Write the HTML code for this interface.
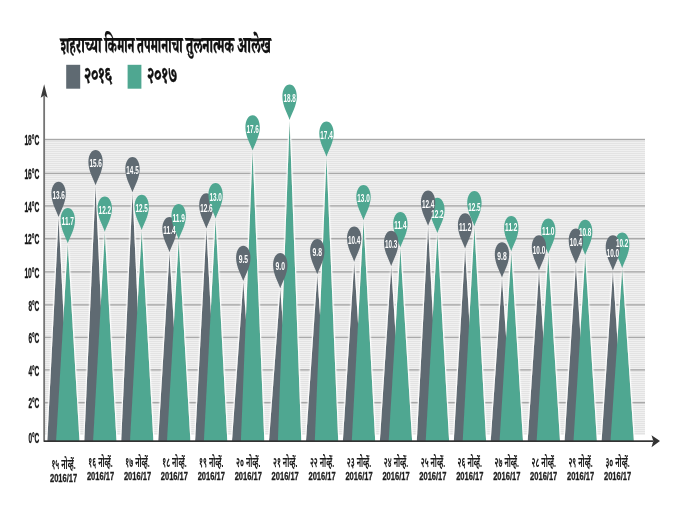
<!DOCTYPE html>
<html lang="mr"><head><meta charset="utf-8"><title>शहराच्या किमान तपमानाचा तुलनात्मक आलेख</title>
<style>html,body{margin:0;padding:0;background:#fff}body{width:685px;height:514px;overflow:hidden}svg{display:block}
.yl{font:bold 14px "Liberation Sans","Noto Sans Devanagari","Lohit Devanagari","FreeSans",sans-serif;fill:#161616;stroke:#161616;stroke-width:.35px}
.xl{font:bold 13.5px "Liberation Sans","Noto Sans Devanagari","Lohit Devanagari","FreeSans",sans-serif;fill:#1c1c1c}
.xn{font:bold 10.5px "Liberation Sans","Noto Sans Devanagari","Lohit Devanagari","FreeSans",sans-serif;fill:#1c1c1c;stroke:#1c1c1c;stroke-width:.3px}
.pv{font:bold 11px "Liberation Sans","Noto Sans Devanagari","Lohit Devanagari","FreeSans",sans-serif;fill:#fff}
.lg{font:800 21.5px "Liberation Serif","Noto Serif Devanagari","Noto Sans Devanagari","Lohit Devanagari","FreeSerif",serif;fill:#111;stroke:#111;stroke-width:.35px}
.tt{font:800 23px "Liberation Serif","Noto Serif Devanagari","Noto Sans Devanagari","Lohit Devanagari","FreeSerif",serif;fill:#111;stroke:#111;stroke-width:.25px}
</style></head><body>
<svg width="685" height="514" viewBox="0 0 685 514">
<defs>
<pattern id="st" x="0" y="139" width="8" height="2" patternUnits="userSpaceOnUse"><rect width="8" height="2" fill="#f0f0f0"/><rect width="8" height="1" fill="#e3e3e3"/></pattern>
<path id="pin" d="M0,35.3 C-1.9,29.5 -7.2,21 -7.2,12.2 C-7.2,4.6 -3.9,0 0,0 C3.9,0 7.2,4.6 7.2,12.2 C7.2,21 1.9,29.5 0,35.3 Z"/>
<filter id="glow" filterUnits="userSpaceOnUse" x="0" y="0" width="685" height="514"><feGaussianBlur in="SourceAlpha" stdDeviation="1.3" result="b"/><feComponentTransfer in="b" result="a"><feFuncA type="linear" slope="2.8"/></feComponentTransfer><feFlood flood-color="#fff"/><feComposite in2="a" operator="in" result="g"/><feMerge><feMergeNode in="g"/><feMergeNode in="SourceGraphic"/></feMerge></filter>
</defs>
<rect width="685" height="514" fill="#fff"/>
<rect x="45" y="139" width="600" height="296" fill="url(#st)"/>
<rect x="45" y="138.8" width="600" height="1.4" fill="#a9a9a9"/>
<rect x="45" y="172.7" width="600" height="1.4" fill="#a9a9a9"/>
<rect x="45" y="205.2" width="600" height="1.4" fill="#a9a9a9"/>
<rect x="45" y="238.0" width="600" height="1.4" fill="#a9a9a9"/>
<rect x="45" y="271.2" width="600" height="1.4" fill="#a9a9a9"/>
<rect x="45" y="304.2" width="600" height="1.4" fill="#a9a9a9"/>
<rect x="45" y="336.7" width="600" height="1.4" fill="#a9a9a9"/>
<rect x="45" y="369.2" width="600" height="1.4" fill="#a9a9a9"/>
<rect x="45" y="402.0" width="600" height="1.4" fill="#a9a9a9"/>
<g filter="url(#glow)"><polygon points="47.3,441.0 58.6,218.0 69.9,441.0" fill="#5f6a72"/><polygon points="56.1,441.0 67.8,244.3 79.5,441.0" fill="#4fa791"/><polygon points="84.3,441.0 95.6,186.3 106.9,441.0" fill="#5f6a72"/><polygon points="93.1,441.0 104.8,232.7 116.5,441.0" fill="#4fa791"/><polygon points="121.2,441.0 132.5,193.3 143.8,441.0" fill="#5f6a72"/><polygon points="130.0,441.0 141.7,231.1 153.4,441.0" fill="#4fa791"/><polygon points="158.2,441.0 169.5,253.2 180.8,441.0" fill="#5f6a72"/><polygon points="167.0,441.0 178.7,240.4 190.4,441.0" fill="#4fa791"/><polygon points="195.1,441.0 206.4,229.6 217.7,441.0" fill="#5f6a72"/><polygon points="203.9,441.0 215.6,219.4 227.3,441.0" fill="#4fa791"/><polygon points="232.0,441.0 243.3,282.0 254.7,441.0" fill="#5f6a72"/><polygon points="240.9,441.0 252.6,151.6 264.3,441.0" fill="#4fa791"/><polygon points="269.0,441.0 280.3,289.3 291.6,441.0" fill="#5f6a72"/><polygon points="277.9,441.0 289.6,120.9 301.3,441.0" fill="#4fa791"/><polygon points="306.0,441.0 317.3,275.3 328.6,441.0" fill="#5f6a72"/><polygon points="314.8,441.0 326.5,157.7 338.2,441.0" fill="#4fa791"/><polygon points="342.9,441.0 354.2,262.7 365.5,441.0" fill="#5f6a72"/><polygon points="351.8,441.0 363.5,221.2 375.2,441.0" fill="#4fa791"/><polygon points="379.9,441.0 391.2,267.1 402.5,441.0" fill="#5f6a72"/><polygon points="388.7,441.0 400.4,248.3 412.1,441.0" fill="#4fa791"/><polygon points="416.8,441.0 428.1,226.8 439.4,441.0" fill="#5f6a72"/><polygon points="425.7,441.0 437.4,234.0 449.1,441.0" fill="#4fa791"/><polygon points="453.8,441.0 465.1,249.6 476.4,441.0" fill="#5f6a72"/><polygon points="462.7,441.0 474.4,227.2 486.1,441.0" fill="#4fa791"/><polygon points="490.7,441.0 502.0,278.5 513.3,441.0" fill="#5f6a72"/><polygon points="499.6,441.0 511.3,252.2 523.0,441.0" fill="#4fa791"/><polygon points="527.7,441.0 539.0,271.5 550.2,441.0" fill="#5f6a72"/><polygon points="536.6,441.0 548.3,254.8 560.0,441.0" fill="#4fa791"/><polygon points="564.6,441.0 575.9,264.8 587.2,441.0" fill="#5f6a72"/><polygon points="573.5,441.0 585.2,256.1 596.9,441.0" fill="#4fa791"/><polygon points="601.6,441.0 612.9,271.5 624.1,441.0" fill="#5f6a72"/><polygon points="610.5,441.0 622.2,268.9 633.9,441.0" fill="#4fa791"/></g>
<rect x="43.25" y="96" width="1.8" height="345.8" fill="#747474"/>
<polygon points="44.15,84.2 47.6,97.8 44.15,95.4 40.7,97.8" fill="#3a3a3a"/>
<rect x="44" y="440.3" width="609" height="1.7" fill="#333"/>
<polygon points="660,441.1 651.5,435.3 653.3,441.1 651.5,447.2" fill="#333"/>
<use href="#pin" x="58.6" y="181.7" fill="#5f6a72"/>
<use href="#pin" x="67.8" y="208.0" fill="#4fa791"/>
<use href="#pin" x="95.6" y="150.0" fill="#5f6a72"/>
<use href="#pin" x="104.8" y="196.4" fill="#4fa791"/>
<use href="#pin" x="132.5" y="157.0" fill="#5f6a72"/>
<use href="#pin" x="141.7" y="194.8" fill="#4fa791"/>
<use href="#pin" x="169.5" y="216.9" fill="#5f6a72"/>
<use href="#pin" x="178.7" y="204.1" fill="#4fa791"/>
<use href="#pin" x="206.4" y="193.3" fill="#5f6a72"/>
<use href="#pin" x="215.6" y="183.1" fill="#4fa791"/>
<use href="#pin" x="243.3" y="245.7" fill="#5f6a72"/>
<use href="#pin" x="252.6" y="115.3" fill="#4fa791"/>
<use href="#pin" x="280.3" y="253.0" fill="#5f6a72"/>
<use href="#pin" x="289.6" y="84.6" fill="#4fa791"/>
<use href="#pin" x="317.3" y="239.0" fill="#5f6a72"/>
<use href="#pin" x="326.5" y="121.4" fill="#4fa791"/>
<use href="#pin" x="354.2" y="226.4" fill="#5f6a72"/>
<use href="#pin" x="363.5" y="184.9" fill="#4fa791"/>
<use href="#pin" x="400.4" y="212.0" fill="#4fa791"/>
<use href="#pin" x="391.2" y="230.8" fill="#5f6a72"/>
<use href="#pin" x="437.4" y="197.7" fill="#4fa791"/>
<use href="#pin" x="428.1" y="190.5" fill="#5f6a72"/>
<use href="#pin" x="474.4" y="190.9" fill="#4fa791"/>
<use href="#pin" x="465.1" y="213.3" fill="#5f6a72"/>
<use href="#pin" x="511.3" y="215.9" fill="#4fa791"/>
<use href="#pin" x="502.0" y="242.2" fill="#5f6a72"/>
<use href="#pin" x="548.3" y="218.5" fill="#4fa791"/>
<use href="#pin" x="539.0" y="235.2" fill="#5f6a72"/>
<use href="#pin" x="585.2" y="219.8" fill="#4fa791"/>
<use href="#pin" x="575.9" y="228.5" fill="#5f6a72"/>
<use href="#pin" x="622.2" y="232.6" fill="#4fa791"/>
<use href="#pin" x="612.9" y="235.2" fill="#5f6a72"/>
<text class="pv" x="52.4" y="199.1" textLength="12.4" lengthAdjust="spacingAndGlyphs">13.6</text>
<text class="pv" x="61.6" y="225.4" textLength="12.4" lengthAdjust="spacingAndGlyphs">11.7</text>
<text class="pv" x="89.4" y="167.4" textLength="12.4" lengthAdjust="spacingAndGlyphs">15.6</text>
<text class="pv" x="98.6" y="213.8" textLength="12.4" lengthAdjust="spacingAndGlyphs">12.2</text>
<text class="pv" x="126.3" y="174.4" textLength="12.4" lengthAdjust="spacingAndGlyphs">14.5</text>
<text class="pv" x="135.5" y="212.2" textLength="12.4" lengthAdjust="spacingAndGlyphs">12.5</text>
<text class="pv" x="163.3" y="234.3" textLength="12.4" lengthAdjust="spacingAndGlyphs">11.4</text>
<text class="pv" x="172.5" y="221.5" textLength="12.4" lengthAdjust="spacingAndGlyphs">11.9</text>
<text class="pv" x="200.2" y="211.6" textLength="12.4" lengthAdjust="spacingAndGlyphs">12.6</text>
<text class="pv" x="209.4" y="200.5" textLength="12.4" lengthAdjust="spacingAndGlyphs">13.0</text>
<text class="pv" x="238.7" y="263.1" textLength="9.4" lengthAdjust="spacingAndGlyphs">9.5</text>
<text class="pv" x="246.4" y="132.7" textLength="12.4" lengthAdjust="spacingAndGlyphs">17.6</text>
<text class="pv" x="275.6" y="270.4" textLength="9.4" lengthAdjust="spacingAndGlyphs">9.0</text>
<text class="pv" x="283.4" y="102.0" textLength="12.4" lengthAdjust="spacingAndGlyphs">18.8</text>
<text class="pv" x="312.6" y="256.4" textLength="9.4" lengthAdjust="spacingAndGlyphs">9.8</text>
<text class="pv" x="320.3" y="138.8" textLength="12.4" lengthAdjust="spacingAndGlyphs">17.4</text>
<text class="pv" x="348.0" y="243.8" textLength="12.4" lengthAdjust="spacingAndGlyphs">10.4</text>
<text class="pv" x="357.3" y="202.3" textLength="12.4" lengthAdjust="spacingAndGlyphs">13.0</text>
<text class="pv" x="385.0" y="248.2" textLength="12.4" lengthAdjust="spacingAndGlyphs">10.3</text>
<text class="pv" x="394.2" y="229.4" textLength="12.4" lengthAdjust="spacingAndGlyphs">11.4</text>
<text class="pv" x="421.9" y="207.9" textLength="12.4" lengthAdjust="spacingAndGlyphs">12.4</text>
<text class="pv" x="431.2" y="217.9" textLength="12.4" lengthAdjust="spacingAndGlyphs">12.2</text>
<text class="pv" x="458.9" y="230.7" textLength="12.4" lengthAdjust="spacingAndGlyphs">11.2</text>
<text class="pv" x="468.2" y="210.6" textLength="12.4" lengthAdjust="spacingAndGlyphs">12.5</text>
<text class="pv" x="497.3" y="260.3" textLength="9.4" lengthAdjust="spacingAndGlyphs">9.8</text>
<text class="pv" x="505.1" y="230.5" textLength="12.4" lengthAdjust="spacingAndGlyphs">11.2</text>
<text class="pv" x="532.8" y="253.5" textLength="12.4" lengthAdjust="spacingAndGlyphs">10.0</text>
<text class="pv" x="542.1" y="234.9" textLength="12.4" lengthAdjust="spacingAndGlyphs">11.0</text>
<text class="pv" x="569.7" y="245.9" textLength="12.4" lengthAdjust="spacingAndGlyphs">10.4</text>
<text class="pv" x="579.0" y="236.2" textLength="12.4" lengthAdjust="spacingAndGlyphs">10.8</text>
<text class="pv" x="606.6" y="256.6" textLength="12.4" lengthAdjust="spacingAndGlyphs">10.0</text>
<text class="pv" x="616.0" y="247.0" textLength="12.4" lengthAdjust="spacingAndGlyphs">10.2</text>
<text class="yl" x="24.4" y="145.1" textLength="14.9" lengthAdjust="spacingAndGlyphs">18°C</text>
<text class="yl" x="24.4" y="179.0" textLength="14.9" lengthAdjust="spacingAndGlyphs">16°C</text>
<text class="yl" x="24.4" y="211.6" textLength="14.9" lengthAdjust="spacingAndGlyphs">14°C</text>
<text class="yl" x="24.4" y="244.4" textLength="14.9" lengthAdjust="spacingAndGlyphs">12°C</text>
<text class="yl" x="24.4" y="277.5" textLength="14.9" lengthAdjust="spacingAndGlyphs">10°C</text>
<text class="yl" x="28.4" y="310.5" textLength="10.9" lengthAdjust="spacingAndGlyphs">8°C</text>
<text class="yl" x="28.4" y="343.0" textLength="10.9" lengthAdjust="spacingAndGlyphs">6°C</text>
<text class="yl" x="28.4" y="375.5" textLength="10.9" lengthAdjust="spacingAndGlyphs">4°C</text>
<text class="yl" x="28.4" y="408.3" textLength="10.9" lengthAdjust="spacingAndGlyphs">2°C</text>
<text class="yl" x="28.4" y="442.7" textLength="10.9" lengthAdjust="spacingAndGlyphs">0°C</text>
<text class="xl" x="51.4" y="469.0" textLength="24.4" lengthAdjust="spacingAndGlyphs">१५ नोव्हें.</text>
<text class="xn" x="50.0" y="482.1" textLength="27.2" lengthAdjust="spacingAndGlyphs">2016/17</text>
<text class="xl" x="88.3" y="466.8" textLength="24.4" lengthAdjust="spacingAndGlyphs">१६ नोव्हें.</text>
<text class="xn" x="86.9" y="479.9" textLength="27.2" lengthAdjust="spacingAndGlyphs">2016/17</text>
<text class="xl" x="125.3" y="466.8" textLength="24.4" lengthAdjust="spacingAndGlyphs">१७ नोव्हें.</text>
<text class="xn" x="123.9" y="479.9" textLength="27.2" lengthAdjust="spacingAndGlyphs">2016/17</text>
<text class="xl" x="162.2" y="466.8" textLength="24.4" lengthAdjust="spacingAndGlyphs">१८ नोव्हें.</text>
<text class="xn" x="160.8" y="479.9" textLength="27.2" lengthAdjust="spacingAndGlyphs">2016/17</text>
<text class="xl" x="199.1" y="466.8" textLength="24.4" lengthAdjust="spacingAndGlyphs">१९ नोव्हें.</text>
<text class="xn" x="197.7" y="479.9" textLength="27.2" lengthAdjust="spacingAndGlyphs">2016/17</text>
<text class="xl" x="236.1" y="466.8" textLength="24.4" lengthAdjust="spacingAndGlyphs">२० नोव्हें.</text>
<text class="xn" x="234.7" y="479.9" textLength="27.2" lengthAdjust="spacingAndGlyphs">2016/17</text>
<text class="xl" x="273.0" y="466.8" textLength="24.4" lengthAdjust="spacingAndGlyphs">२१ नोव्हें.</text>
<text class="xn" x="271.6" y="479.9" textLength="27.2" lengthAdjust="spacingAndGlyphs">2016/17</text>
<text class="xl" x="309.9" y="466.8" textLength="24.4" lengthAdjust="spacingAndGlyphs">२२ नोव्हें.</text>
<text class="xn" x="308.5" y="479.9" textLength="27.2" lengthAdjust="spacingAndGlyphs">2016/17</text>
<text class="xl" x="346.8" y="466.8" textLength="24.4" lengthAdjust="spacingAndGlyphs">२३ नोव्हें.</text>
<text class="xn" x="345.4" y="479.9" textLength="27.2" lengthAdjust="spacingAndGlyphs">2016/17</text>
<text class="xl" x="383.8" y="466.8" textLength="24.4" lengthAdjust="spacingAndGlyphs">२४ नोव्हें.</text>
<text class="xn" x="382.4" y="479.9" textLength="27.2" lengthAdjust="spacingAndGlyphs">2016/17</text>
<text class="xl" x="420.7" y="466.8" textLength="24.4" lengthAdjust="spacingAndGlyphs">२५ नोव्हें.</text>
<text class="xn" x="419.3" y="479.9" textLength="27.2" lengthAdjust="spacingAndGlyphs">2016/17</text>
<text class="xl" x="457.6" y="466.8" textLength="24.4" lengthAdjust="spacingAndGlyphs">२६ नोव्हें.</text>
<text class="xn" x="456.2" y="479.9" textLength="27.2" lengthAdjust="spacingAndGlyphs">2016/17</text>
<text class="xl" x="494.6" y="466.8" textLength="24.4" lengthAdjust="spacingAndGlyphs">२७ नोव्हें.</text>
<text class="xn" x="493.2" y="479.9" textLength="27.2" lengthAdjust="spacingAndGlyphs">2016/17</text>
<text class="xl" x="531.5" y="466.8" textLength="24.4" lengthAdjust="spacingAndGlyphs">२८ नोव्हें.</text>
<text class="xn" x="530.1" y="479.9" textLength="27.2" lengthAdjust="spacingAndGlyphs">2016/17</text>
<text class="xl" x="568.4" y="466.8" textLength="24.4" lengthAdjust="spacingAndGlyphs">२९ नोव्हें.</text>
<text class="xn" x="567.0" y="479.9" textLength="27.2" lengthAdjust="spacingAndGlyphs">2016/17</text>
<text class="xl" x="605.4" y="466.8" textLength="24.4" lengthAdjust="spacingAndGlyphs">३० नोव्हें.</text>
<text class="xn" x="604.0" y="479.9" textLength="27.2" lengthAdjust="spacingAndGlyphs">2016/17</text>
<rect x="66.2" y="64.8" width="14" height="23.9" fill="#5f6a72"/>
<rect x="127.6" y="64.8" width="13.8" height="23.9" fill="#4fa791"/>
<text class="lg" x="84.3" y="82.3" textLength="27.8" lengthAdjust="spacingAndGlyphs">२०१६</text>
<text class="lg" x="147.3" y="82.3" textLength="29.8" lengthAdjust="spacingAndGlyphs">२०१७</text>
<g class="tt">
<text x="60.5" y="52.6" textLength="41.0" lengthAdjust="spacingAndGlyphs">शहराच्या</text>
<text x="104.5" y="52.6" textLength="30.0" lengthAdjust="spacingAndGlyphs">किमान</text>
<text x="136.8" y="52.6" textLength="45.8" lengthAdjust="spacingAndGlyphs">तपमानाचा</text>
<text x="185.8" y="52.6" textLength="48.2" lengthAdjust="spacingAndGlyphs">तुलनात्मक</text>
<text x="237.3" y="52.6" textLength="33.5" lengthAdjust="spacingAndGlyphs">आलेख</text>
</g>
</svg></body></html>
